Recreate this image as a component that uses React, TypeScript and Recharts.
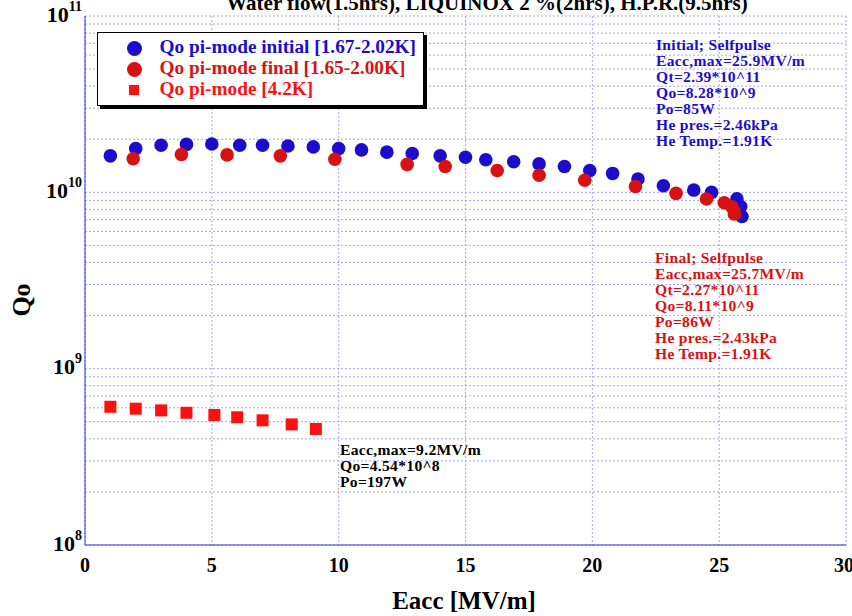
import { CartesianGrid, Scatter, ScatterChart, XAxis, YAxis } from "recharts";

// initial run, 1.67-2.02K
const initialEacc = [1, 2, 3, 4, 5, 6.1, 7, 8, 9, 10, 10.9, 11.9, 12.9, 14, 15, 15.8, 16.9, 17.9, 18.9, 19.9, 20.8, 21.8, 22.8, 24, 24.7, 25.7, 25.85, 25.9];
const initialQo = [1.61e10, 1.77e10, 1.85e10, 1.87e10, 1.88e10, 1.85e10, 1.85e10, 1.83e10, 1.81e10, 1.77e10, 1.74e10, 1.69e10, 1.66e10, 1.61e10, 1.58e10, 1.53e10, 1.49e10, 1.45e10, 1.4e10, 1.33e10, 1.28e10, 1.19e10, 1.09e10, 1.03e10, 1.0e10, 9.2e9, 8.3e9, 7.3e9];

// final run, 1.65-2.00K
const finalEacc = [1.9, 3.8, 5.6, 7.7, 9.85, 12.7, 14.2, 16.25, 17.9, 19.7, 21.7, 23.3, 24.5, 25.2, 25.5, 25.6, 25.6];
const finalQo = [1.55e10, 1.64e10, 1.63e10, 1.61e10, 1.54e10, 1.44e10, 1.4e10, 1.33e10, 1.25e10, 1.17e10, 1.08e10, 9.87e9, 9.16e9, 8.73e9, 8.29e9, 7.76e9, 7.54e9];

// 4.2K
const k42Eacc = [1, 2, 3, 4, 5.1, 6, 7, 8.15, 9.1];
const k42Qo = [6.08e8, 5.93e8, 5.8e8, 5.62e8, 5.46e8, 5.3e8, 5.09e8, 4.83e8, 4.55e8];

const xTicks = [0, 5, 10, 15, 20, 25, 30];
const yDecades = [1e8, 1e9, 1e10, 1e11];
const yMinorSteps = [2, 3, 4, 5, 6, 7, 8, 9];

const initialText = ["Initial; Selfpulse", "Eacc,max=25.9MV/m", "Qt=2.39*10^11", "Qo=8.28*10^9", "Po=85W", "He pres.=2.46kPa", "He Temp.=1.91K"];
const finalText = ["Final; Selfpulse", "Eacc,max=25.7MV/m", "Qt=2.27*10^11", "Qo=8.11*10^9", "Po=86W", "He pres.=2.43kPa", "He Temp.=1.91K"];
const k42Text = ["Eacc,max=9.2MV/m", "Qo=4.54*10^8", "Po=197W"];

const toPoints = (xs: number[], ys: number[]) => xs.map((x, i) => ({ x, y: ys[i] }));
const initialData = toPoints(initialEacc, initialQo);
const finalData = toPoints(finalEacc, finalQo);
const k42Data = toPoints(k42Eacc, k42Qo);

const yTicks = yDecades.flatMap((d, i) => (i < yDecades.length - 1 ? [d, ...yMinorSteps.map((m) => d * m)] : [d]));

const FONT = '"Liberation Serif", "Times New Roman", serif';
const BLUE = "#1c0ccc";
const RED = "#d81212";
const SQ_RED = "#ff1010";
const AXIS = "#3030d8";
const GRID = "#a6a6ee";

const YTick = ({ x, y, payload }: any) => {
  const v = payload.value;
  const exp = Math.round(Math.log10(v));
  if (Math.abs(v / Math.pow(10, exp) - 1) > 1e-6) return null;
  return (
    <text x={x + 5} y={y + 5.5} textAnchor="end" fontFamily={FONT} fontWeight="bold" fontSize={22} fill="#000">
      <tspan>10</tspan>
      <tspan dy={-11} fontSize={14}>{exp}</tspan>
    </text>
  );
};

const XTick = ({ x, y, payload }: any) => (
  <text x={x} y={y + 19} textAnchor="middle" fontFamily={FONT} fontWeight="bold" fontSize={20} fill="#000">
    {payload.value}
  </text>
);

const dot = (color: string) => (p: any) => <circle cx={p.cx} cy={p.cy} r={6.8} fill={color} />;
const square = (p: any) => <rect x={p.cx - 6} y={p.cy - 6} width={12} height={12} fill={SQ_RED} />;

const textBlock = (lines: string[], left: number, top: number, color: string) => (
  <div style={{ position: "absolute", left, top, color, fontFamily: FONT, fontWeight: "bold", fontSize: 15.6, letterSpacing: 0.3, lineHeight: "16px", whiteSpace: "nowrap" }}>
    {lines.map((l) => (
      <div key={l}>{l}</div>
    ))}
  </div>
);

const legendRows = [
  { label: "Qo pi-mode initial [1.67-2.02K]", color: BLUE, kind: "circle" },
  { label: "Qo pi-mode final [1.65-2.00K]", color: RED, kind: "circle" },
  { label: "Qo pi-mode [4.2K]", color: SQ_RED, kind: "square" },
];

export default function App() {
  return (
    <div style={{ position: "absolute", left: 0, top: 0, width: 852, height: 616, background: "#fff", overflow: "hidden" }}>
      <ScatterChart width={852} height={616} margin={{ top: 16, right: 6, bottom: 0, left: 0 }}>
        <CartesianGrid stroke={GRID} strokeDasharray="2 2" />
        <XAxis type="number" dataKey="x" domain={[0, 30]} ticks={xTicks} height={71} tick={<XTick />} tickLine={false} axisLine={{ stroke: AXIS }} allowDataOverflow />
        <XAxis xAxisId="top" orientation="top" type="number" domain={[0, 30]} height={0} tick={false} tickLine={false} axisLine={{ stroke: AXIS }} />
        <YAxis type="number" dataKey="y" scale="log" domain={[1e8, 1e11]} ticks={yTicks} width={85} tick={<YTick />} tickLine={false} axisLine={{ stroke: AXIS }} allowDataOverflow interval={0} />
        <YAxis yAxisId="right" orientation="right" type="number" domain={[0, 1]} width={0} tick={false} tickLine={false} axisLine={{ stroke: AXIS }} />
        <Scatter data={initialData} fill={BLUE} shape={dot(BLUE)} isAnimationActive={false} />
        <Scatter data={finalData} fill={RED} shape={dot(RED)} isAnimationActive={false} />
        <Scatter data={k42Data} fill={SQ_RED} shape={square} isAnimationActive={false} />
      </ScatterChart>

      <div style={{ position: "absolute", left: 0, width: 974, top: -9, textAlign: "center", fontFamily: FONT, fontWeight: "bold", fontSize: 21, whiteSpace: "nowrap" }}>
        Water flow(1.5hrs), LIQUINOX 2 %(2hrs), H.P.R.(9.5hrs)
      </div>

      <div style={{ position: "absolute", left: 97, top: 32, width: 325, height: 72, border: "1.5px solid #000", boxShadow: "3px 3px 0 #000", background: "#fff", fontFamily: FONT, fontWeight: "bold", fontSize: 19.3, whiteSpace: "nowrap" }}>
        {legendRows.map((row, i) => (
          <div key={row.label} style={{ position: "absolute", left: 0, top: 3 + i * 21, height: 21, width: 320, lineHeight: "21px", color: row.color }}>
            <span
              style={{
                position: "absolute",
                left: row.kind === "circle" ? 28.5 : 31,
                top: row.kind === "circle" ? 4.5 : 7,
                width: row.kind === "circle" ? 15 : 10,
                height: row.kind === "circle" ? 15 : 10,
                borderRadius: row.kind === "circle" ? 7.5 : 0,
                background: row.color,
              }}
            />
            <span style={{ position: "absolute", left: 61.5, top: 0 }}>{row.label}</span>
          </div>
        ))}
      </div>

      {textBlock(initialText, 656, 37, BLUE)}
      {textBlock(finalText, 655, 249.5, RED)}
      {textBlock(k42Text, 340, 441.5, "#000")}

      <div style={{ position: "absolute", left: 22, top: 300, transform: "translate(-50%, -50%) rotate(-90deg)", fontFamily: FONT, fontWeight: "bold", fontSize: 26 }}>Qo</div>
      <div style={{ position: "absolute", left: 464, top: 601, transform: "translate(-50%, -50%)", fontFamily: FONT, fontWeight: "bold", fontSize: 25, whiteSpace: "nowrap" }}>Eacc [MV/m]</div>
    </div>
  );
}
